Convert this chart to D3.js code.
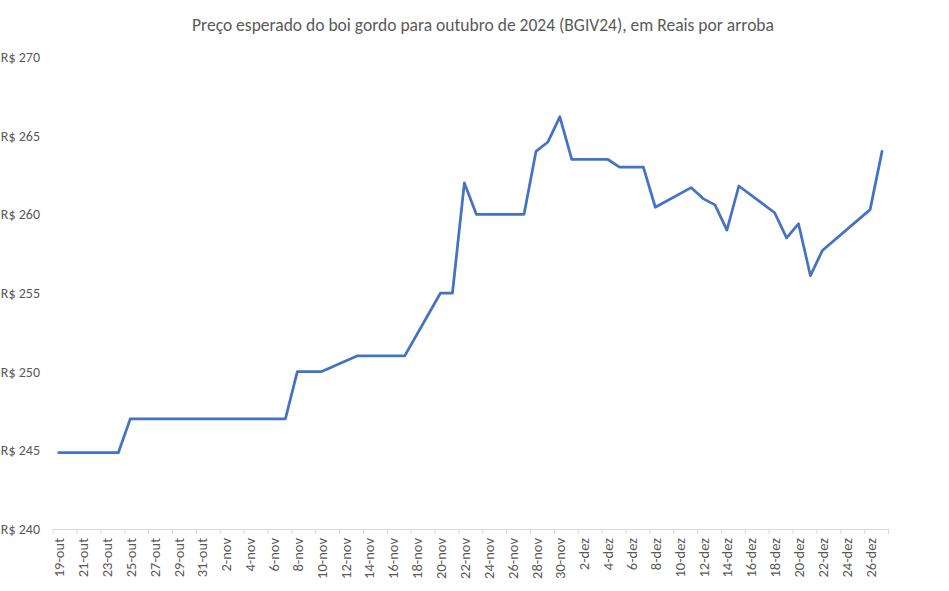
<!DOCTYPE html>
<html>
<head>
<meta charset="utf-8">
<script src="https://cdn.jsdelivr.net/npm/d3@7"></script>
<style>
  body { margin: 0; background: #fff; }
  text { font-family: Carlito, Calibri, "Liberation Sans", sans-serif; }
</style>
</head>
<body>
<script>
// trading days (2023) and BGIV24 price, R$/@
var dates = ["2023-10-19","2023-10-20","2023-10-23","2023-10-24","2023-10-25","2023-10-26","2023-10-27",
    "2023-10-30","2023-10-31","2023-11-01","2023-11-03","2023-11-06","2023-11-07","2023-11-08","2023-11-09",
    "2023-11-10","2023-11-13","2023-11-14","2023-11-16","2023-11-17","2023-11-20","2023-11-21","2023-11-22",
    "2023-11-23","2023-11-24","2023-11-27","2023-11-28","2023-11-29","2023-11-30","2023-12-01","2023-12-04",
    "2023-12-05","2023-12-06","2023-12-07","2023-12-08","2023-12-11","2023-12-12","2023-12-13","2023-12-14",
    "2023-12-15","2023-12-18","2023-12-19","2023-12-20","2023-12-21","2023-12-22","2023-12-26","2023-12-27"];
var prices = [244.85,244.85,244.85,244.85,247,247,247,
    247,247,247,247,247,247,250,250,
    250,251,251,251,251,255,255,262,
    260,260,260,264,264.6,266.2,263.5,263.5,
    263,263,263,260.45,261.7,261.0,260.6,259.0,
    261.8,260.1,258.5,259.4,256.1,257.7,260.3,264.0];
var yTicks = [240,245,250,255,260,265,270];
var monthNames = ["jan","fev","mar","abr","mai","jun","jul","ago","set","out","nov","dez"];

var width = 949, height = 591;
var plotLeft = 52.7, plotRight = 888, plotTop = 57, plotBottom = 529;

var svg = d3.select("body").append("svg")
    .attr("width", width)
    .attr("height", height);

var parse = d3.timeParse("%Y-%m-%d");
var data = dates.map(function(d, i) { return {date: d3.timeHour.offset(parse(d), 12), value: prices[i]}; });

var x = d3.scaleTime()
    .domain([parse("2023-10-19"), parse("2023-12-28")])
    .range([plotLeft, plotRight]);
var y = d3.scaleLinear()
    .domain([240, 270])
    .range([plotBottom, plotTop]);

//Title
svg.append("text")
    .attr("x", 483)
    .attr("y", 31)
    .attr("text-anchor", "middle")
    .style("font-size", "17.5px")
    .style("fill", "#595959")
    .text("Preço esperado do boi gordo para outubro de 2024 (BGIV24), em Reais por arroba");

//Y labels
svg.append("g")
    .selectAll("text")
    .data(yTicks)
    .enter().append("text")
    .attr("x", 40)
    .attr("y", function(d) { return y(d); })
    .attr("dy", "0.35em")
    .attr("text-anchor", "end")
    .style("font-size", "14px")
    .style("fill", "#595959")
    .text(function(d) { return "R$ " + d; });

//X axis, ticks every 2 days, labels centred on the day
var tickDates = d3.timeDay.range(parse("2023-10-19"), d3.timeDay.offset(parse("2023-12-28"), 1), 1)
    .filter(function(d, i) { return i % 2 == 0; });
var halfDay = (x(parse("2023-10-20")) - x(parse("2023-10-19"))) / 2;

var xAxis = d3.axisBottom(x)
    .tickValues(tickDates)
    .tickSize(5)
    .tickSizeOuter(0)
    .tickFormat(function(d) {
        if (+d >= +parse("2023-12-28")) return "";
        return d.getDate() + "-" + monthNames[d.getMonth()];
    });

var gx = svg.append("g")
    .attr("transform", "translate(0," + plotBottom + ")")
    .call(xAxis);
gx.select(".domain").attr("stroke", "#d9d9d9");
gx.selectAll(".tick line").attr("stroke", "#d9d9d9");
gx.selectAll(".tick text")
    .attr("transform", "translate(" + halfDay + ",0) rotate(-90)")
    .attr("x", -9)
    .attr("y", 0)
    .attr("dy", "0.35em")
    .attr("text-anchor", "end")
    .style("font-family", "Carlito, Calibri, 'Liberation Sans', sans-serif")
    .style("font-size", "14.5px")
    .style("fill", "#595959");

//Price line
var line = d3.line()
    .x(function(d) { return x(d.date); })
    .y(function(d) { return y(d.value); });

svg.append("path")
    .datum(data)
    .attr("d", line)
    .attr("fill", "none")
    .attr("stroke", "#4472C4")
    .attr("stroke-width", 2.75)
    .attr("stroke-linejoin", "round")
    .attr("stroke-linecap", "round");
</script>
</body>
</html>
